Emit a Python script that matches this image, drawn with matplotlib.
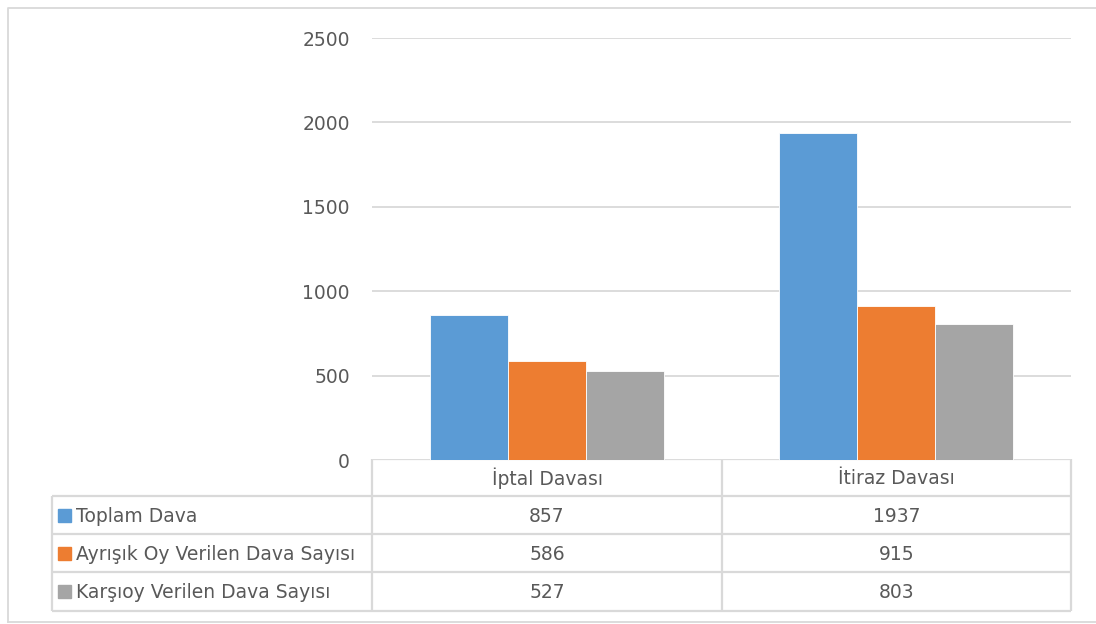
import numpy as np
import matplotlib.pyplot as plt
from matplotlib.patches import Rectangle

categories = ["İptal Davası", "İtiraz Davası"]
series_names = ["Toplam Dava", "Ayrışık Oy Verilen Dava Sayısı", "Karşıoy Verilen Dava Sayısı"]
toplam = [857, 1937]
ayrisik = [586, 915]
karsioy = [527, 803]
yticks = [0, 500, 1000, 1500, 2000, 2500]

series = [toplam, ayrisik, karsioy]
colors = ["#5B9BD5", "#ED7D31", "#A5A5A5"]
text_col = "#595959"
grid_col = "#D9D9D9"
fs = 13.5

W, H = 1096, 624
fig = plt.figure(figsize=(W / 100, H / 100), dpi=100)
fig.patch.set_facecolor("white")

# plot area in pixel coordinates
px_left, px_right, px_top, px_bottom = 372, 1071, 38, 460
ax = fig.add_axes([px_left / W, 1 - px_bottom / H,
                   (px_right - px_left) / W, (px_bottom - px_top) / H])

x = np.arange(len(categories))
bw = 78 / 349.5
for i, (vals, c) in enumerate(zip(series, colors)):
    ax.bar(x + (i - 1) * bw, vals, width=bw, color=c, edgecolor="white",
           linewidth=0.6, zorder=3)

ax.set_xlim(-0.5, len(categories) - 0.5)
ax.set_ylim(0, 2500)
ax.set_yticks(yticks)
ax.set_yticklabels([str(t) for t in yticks])
ax.set_xticks([])
ax.grid(axis="y", color=grid_col, linewidth=1.3, zorder=0)
for s in ax.spines.values():
    s.set_visible(False)
ax.tick_params(axis="y", length=0, pad=16, labelsize=fs, labelcolor=text_col)

# overlay in pixel coordinates for the data table and the frame
ov = fig.add_axes([0, 0, 1, 1], zorder=-1)
ov.set_xlim(0, W)
ov.set_ylim(H, 0)
ov.axis("off")

# outer frame
ov.plot([8, 8, 1100], [622, 8, 8], color=grid_col, lw=1.3)
ov.plot([8, 1100], [622, 622], color=grid_col, lw=1.3)

tl, split, mid, tr = 52, 372, 722, 1071
rows_y = [459, 496, 534, 572, 611]
lk = dict(color=grid_col, lw=1.6, solid_capstyle="butt")
ov.plot([split, tr], [rows_y[0], rows_y[0]], **lk)
for yy in rows_y[1:]:
    ov.plot([tl, tr], [yy, yy], **lk)
for xx in [split, mid, tr]:
    ov.plot([xx, xx], [rows_y[0], rows_y[-1]], **lk)
ov.plot([tl, tl], [rows_y[1], rows_y[-1]], **lk)

col_centers = [(split + mid) / 2, (mid + tr) / 2]
hy = (rows_y[0] + rows_y[1]) / 2
for cx, cat in zip(col_centers, categories):
    ov.text(cx, hy + 1, cat, ha="center", va="center", fontsize=fs, color=text_col)

for r, (name, vals, c) in enumerate(zip(series_names, series, colors)):
    cy = (rows_y[r + 1] + rows_y[r + 2]) / 2
    ov.add_patch(Rectangle((58, cy - 6.5), 13, 13, color=c))
    ov.text(76, cy + 1, name, ha="left", va="center", fontsize=fs, color=text_col)
    for cx, v in zip(col_centers, vals):
        ov.text(cx, cy + 1, str(v), ha="center", va="center", fontsize=fs, color=text_col)

fig.savefig("out.png", dpi=100)
